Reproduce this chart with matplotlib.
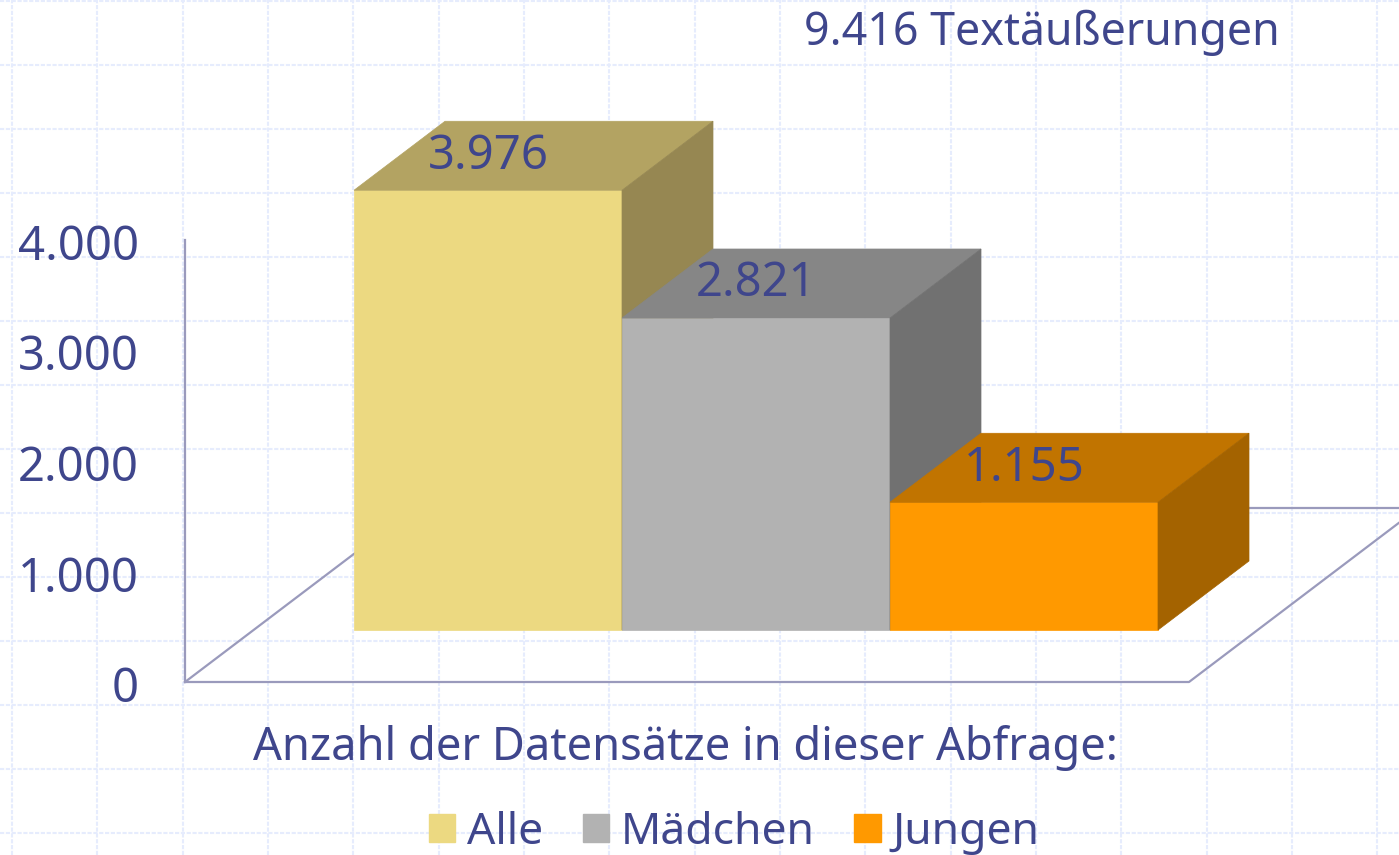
import matplotlib
matplotlib.use("Agg")
import matplotlib.pyplot as plt
from matplotlib.patches import Patch
from matplotlib.transforms import ScaledTranslation
import numpy as np

# datos de la grafica
categorias = ["Alle", "Mädchen", "Jungen"]
valores = [3976, 2821, 1155]
etiquetas = ["3.976", "2.821", "1.155"]
ticks = [0, 1000, 2000, 3000, 4000]
tick_labels = ["0", "1.000", "2.000", "3.000", "4.000"]
titulo = "9.416 Textäußerungen"
pie = "Anzahl der Datensätze in dieser Abfrage:"

frente = ["#ECD981", "#B2B2B2", "#FF9900"]
arriba = ["#B3A362", "#868686", "#C17400"]
lado = ["#968752", "#717171", "#A46300"]
azul = "#3F468C"
linea = "#9A9ABC"
rejilla = "#E6ECFD"

W, H = 1399, 855
plt.rcParams["font.family"] = ["Noto Sans", "DejaVu Sans"]
fig = plt.figure(figsize=(W / 100, H / 100), dpi=100)

# fondo cuadriculado en pixeles
bg = fig.add_axes([0, 0, 1, 1], zorder=0)
bg.set_xlim(0, W)
bg.set_ylim(H, 0)
bg.axis("off")
for x in np.arange(12, W, 85.33):
    bg.axvline(x, color=rejilla, lw=1.5, ls=(0, (2, 0.8)))
for y in np.arange(1, H, 64):
    bg.axhline(y, color=rejilla, lw=1.5, ls=(0, (2, 0.8)))

# ejes principales: x en categorias, y en valores
escala = 0.1106  # pixeles por unidad
ancho = 268.0
ax = fig.add_axes([0, 0, 1, 1], zorder=1)
ax.patch.set_alpha(0)
ax.set_xlim(-354 / ancho, (W - 354) / ancho)
ax.set_ylim(-(H - 630) / escala, 630 / escala)
ax.axis("off")

dx = 91 / ancho
dy = 69 / escala
suelo = -52 / escala  # borde delantero del piso
x_izq = (185 - 354) / ancho
x_der = (1189 - 354) / ancho
pend = dy / dx
largo = 300 / ancho

# piso
ax.plot([x_izq, x_izq + largo], [suelo, suelo + largo * pend], color=linea, lw=1.6, zorder=1)
ax.plot([x_izq, x_der, x_der + largo], [suelo, suelo, suelo + largo * pend], color=linea, lw=1.6, zorder=1)
ax.plot([(1240 - 354) / ancho, (W - 354) / ancho], [suelo + 174 / escala] * 2, color=linea, lw=1.6, zorder=1)

# barras 3D
for i, v in enumerate(valores):
    ax.fill([i, i + 1, i + 1, i], [0, 0, v, v], color=frente[i], lw=0.5, zorder=3 + i)
    ax.fill([i, i + 1, i + 1 + dx, i + dx], [v, v, v + dy, v + dy], color=arriba[i], lw=0.5, zorder=3 + i)
    ax.fill([i + 1, i + 1 + dx, i + 1 + dx, i + 1], [0, dy, v + dy, v], color=lado[i], lw=0.5, zorder=3 + i)
    ax.text(i + 0.5, v + 34 / escala, etiquetas[i], color=azul, fontsize=34, ha="center", va="center", zorder=10)

# eje y
ax_y = fig.add_axes([185 / W, 1 - 682 / H, 0.01, 442 / H], zorder=2)
ax_y.patch.set_alpha(0)
ax_y.set_ylim(0, 4000)
ax_y.set_xticks([])
ax_y.set_yticks(ticks)
ax_y.set_yticklabels(tick_labels, color=azul, fontsize=34)
ax_y.tick_params(axis="y", length=0, pad=33)
for l in ax_y.get_yticklabels():
    l.set_transform(l.get_transform() + ScaledTranslation(0, -2 / 100, fig.dpi_scale_trans))
for s in ["top", "right", "bottom"]:
    ax_y.spines[s].set_visible(False)
ax_y.spines["left"].set_color(linea)
ax_y.spines["left"].set_linewidth(1.6)

fig.text(1042 / W, 1 - 33 / H, titulo, color=azul, fontsize=32.2, ha="center", va="center")
fig.text(685 / W, 1 - 748 / H, pie, color=azul, fontsize=32.6, ha="center", va="center")

handles = [Patch(color=c, label=n) for c, n in zip(frente, categorias)]
fig.legend(handles=handles, ncol=3, loc="center", bbox_to_anchor=(734 / W, 1 - 833 / H), frameon=False,
           fontsize=32, labelcolor=azul, handlelength=0.6, handleheight=0.6, handletextpad=0.25, columnspacing=0.9,
           borderpad=0, borderaxespad=0)

fig.savefig("out.png", dpi=100)
